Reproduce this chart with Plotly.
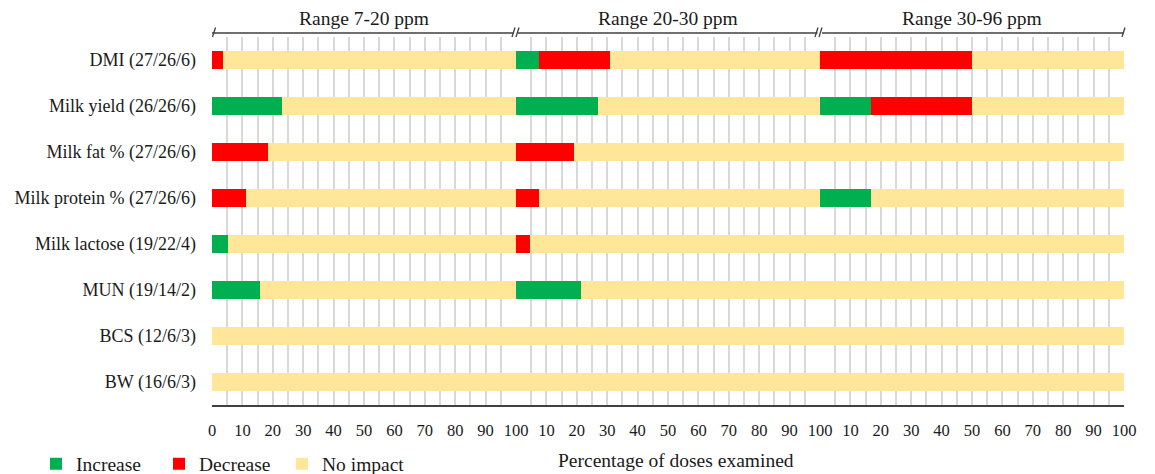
import plotly.graph_objects as go
from plotly.subplots import make_subplots

# ---------------- data ----------------
categories = ["DMI (27/26/6)", "Milk yield (26/26/6)", "Milk fat % (27/26/6)",
              "Milk protein % (27/26/6)", "Milk lactose (19/22/4)", "MUN (19/14/2)",
              "BCS (12/6/3)", "BW (16/6/3)"]
range_labels = ["Range 7-20 ppm", "Range 20-30 ppm", "Range 30-96 ppm"]
series_names = ["Increase", "Decrease", "No impact"]

increase_7_20 = [0, 23.1, 0, 0, 5.3, 15.8, 0, 0]
decrease_7_20 = [3.7, 0, 18.5, 11.1, 0, 0, 0, 0]
no_impact_7_20 = [96.3, 76.9, 81.5, 88.9, 94.7, 84.2, 100, 100]

increase_20_30 = [7.7, 26.9, 0, 0, 0, 21.4, 0, 0]
decrease_20_30 = [23.1, 0, 19.2, 7.7, 4.5, 0, 0, 0]
no_impact_20_30 = [69.2, 73.1, 80.8, 92.3, 95.5, 78.6, 100, 100]

increase_30_96 = [0, 16.7, 0, 16.7, 0, 0, 0, 0]
decrease_30_96 = [50, 33.3, 0, 0, 0, 0, 0, 0]
no_impact_30_96 = [50, 50, 100, 83.3, 100, 100, 100, 100]

tick_vals_first = [0, 10, 20, 30, 40, 50, 60, 70, 80, 90, 100]
tick_vals_other = [10, 20, 30, 40, 50, 60, 70, 80, 90, 100]
x_title = "Percentage of doses examined"

panels = [
    (increase_7_20, decrease_7_20, no_impact_7_20),
    (increase_20_30, decrease_20_30, no_impact_20_30),
    (increase_30_96, decrease_30_96, no_impact_30_96),
]

# ---------------- style ----------------
colors = ["#00B050", "#FF0000", "#FFE699"]
FONT = "Liberation Serif, Times New Roman, serif"
TXT = "#1a1a1a"
W, H = 1155, 474
L, R, T, B = 212, 1124, 37, 405  # plot-area pixel box


def px2x(px):
    return (px - L) / (R - L)


def py2y(py):
    return (B - py) / (B - T)


fig = make_subplots(rows=1, cols=3, shared_yaxes=True, horizontal_spacing=0)

for p, vals in enumerate(panels):
    for s, (name, v) in enumerate(zip(series_names, vals)):
        fig.add_trace(go.Bar(
            y=categories, x=v, orientation="h", name=name,
            marker=dict(color=colors[s], line=dict(width=0)),
            legendgroup=name, showlegend=(p == 0),
            hoverinfo="x+y+name",
        ), row=1, col=p + 1)

grid_col = "#d9d9d9"
for p in range(3):
    tv = tick_vals_first if p == 0 else tick_vals_other
    fig.update_xaxes(
        range=[0, 100], tickmode="array", tickvals=tv, ticktext=[str(v) for v in tv],
        showgrid=True, gridcolor=grid_col, gridwidth=1.5,
        minor=dict(dtick=5, showgrid=True, gridcolor=grid_col, gridwidth=1.5, ticks=""),
        showline=True, linecolor="#404040", linewidth=1.5,
        zeroline=False, ticks="", ticklabelstandoff=9,
        tickfont=dict(family=FONT, size=16.5, color=TXT),
        fixedrange=True,
        row=1, col=p + 1)

fig.update_yaxes(autorange="reversed", showline=True, linecolor="#111", linewidth=2,
                 showgrid=False, ticks="", ticklabelstandoff=15,
                 tickfont=dict(family=FONT, size=18, color=TXT), row=1, col=1)
fig.update_yaxes(showgrid=False, showline=False, fixedrange=True)

# top range brackets
line_col = "#404040"
yb = py2y(33)
y_lo, y_hi = py2y(37), py2y(27.5)
segs = [(L, 513.5), (518, 817.5), (822, R)]
shapes = []
for a, b in segs:
    shapes.append(dict(type="line", xref="paper", yref="paper", x0=px2x(a), x1=px2x(b),
                       y0=yb, y1=yb, line=dict(color=line_col, width=1.3)))
for sx in [212.5, 512, 516, 815, 819, 1122]:
    shapes.append(dict(type="line", xref="paper", yref="paper", x0=px2x(sx), x1=px2x(sx + 3),
                       y0=y_lo, y1=y_hi, line=dict(color=line_col, width=1.3)))

annotations = []
for i, lab in enumerate(range_labels):
    annotations.append(dict(text=lab, xref="paper", yref="paper", x=(2 * i + 1) / 6,
                            y=py2y(19), showarrow=False, xanchor="center", yanchor="middle",
                            font=dict(family=FONT, size=19.5, color=TXT)))
annotations.append(dict(text=x_title, xref="paper", yref="paper", x=px2x(676), y=py2y(460),
                        showarrow=False, xanchor="center", yanchor="middle",
                        font=dict(family=FONT, size=19.5, color=TXT)))

fig.update_layout(
    width=W, height=H, autosize=False,
    margin=dict(l=L, r=W - R, t=T, b=H - B, autoexpand=False),
    barmode="stack", bargap=0.61,
    plot_bgcolor="white", paper_bgcolor="white",
    font=dict(family=FONT, size=18, color=TXT),
    shapes=shapes, annotations=annotations,
    legend=dict(orientation="h", x=px2x(36), y=py2y(464), xanchor="left", yanchor="middle",
                entrywidth=78, entrywidthmode="pixels",
                font=dict(family=FONT, size=19.5, color=TXT), bgcolor="rgba(0,0,0,0)",
                traceorder="normal", itemclick=False, itemdoubleclick=False),
)

fig.write_html("out.html", config={"displayModeBar": False},
               post_script="document.body.style.margin='0';document.body.style.overflow='hidden';")
